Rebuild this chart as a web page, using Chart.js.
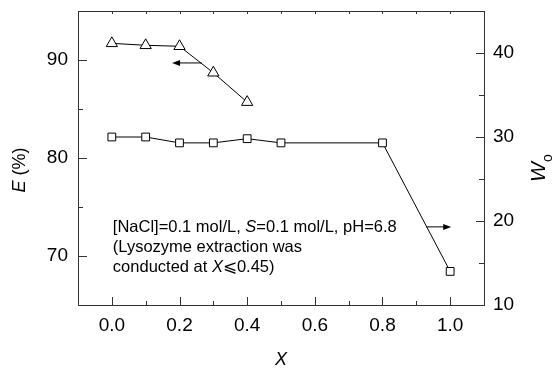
<!DOCTYPE html>
<html>
<head>
<meta charset="utf-8">
<script src="https://cdn.jsdelivr.net/npm/chart.js@4"></script>
<style>
	html, body { margin: 0; padding: 0; background: #fff; }
	#wrap { width: 552px; height: 372px; }
</style>
</head>
<body>
<div id="wrap"><canvas id="chart" width="552" height="372"></canvas></div>
<script>
"use strict";

// values
const xE = [0, 0.1, 0.2, 0.3, 0.4];
const eValues = [91.7, 91.5, 91.4, 88.7, 85.7];
const xW = [0, 0.1, 0.2, 0.3, 0.4, 0.5, 0.8, 1.0];
const wValues = [30.0, 30.0, 29.3, 29.3, 29.8, 29.3, 29.3, 14.0];

const xTicks = [0, 0.2, 0.4, 0.6, 0.8, 1.0];
const eTicks = [70, 80, 90];
const wTicks = [10, 20, 30, 40];

const noteLines = [
	[["[NaCl]=0.1 mol/L, ", false], ["S", true], ["=0.1 mol/L, pH=6.8", false]],
	[["(Lysozyme extraction was", false]],
	[["conducted at ", false], ["X", true], ["\u2A7D0.45)", false]]
];

const AXIS = '#333';
const FONT = '"Liberation Sans", Arial, sans-serif';

function fixTicks(list) {
	return function (scale) {
		scale.ticks = list.map(function (v) { return { value: v }; });
	};
}

// keep the plot area where the reference has it
function fitTo(prop, size) {
	return function (scale) {
		scale[prop] = size;
		scale.paddingTop = 0;
		scale.paddingBottom = 0;
		scale.paddingLeft = 0;
		scale.paddingRight = 0;
	};
}

// minor ticks half way between the major ones, inside the range
function minors(scale, list) {
	const step = list[1] - list[0];
	const out = [];
	for (let i = -1; i < list.length; i++) {
		const v = list[0] + (i + 0.5) * step;
		if (v > scale.min + 1e-9 && v < scale.max - 1e-9) { out.push(v); }
	}
	return out;
}

function arrow(ctx, x1, y1, x2, y2) {
	const a = Math.atan2(y2 - y1, x2 - x1);
	ctx.beginPath();
	ctx.moveTo(x1, y1);
	ctx.lineTo(x2 - 6 * Math.cos(a), y2 - 6 * Math.sin(a));
	ctx.stroke();
	ctx.beginPath();
	ctx.moveTo(x2, y2);
	ctx.lineTo(x2 - 8 * Math.cos(a) + 3 * Math.sin(a), y2 - 8 * Math.sin(a) - 3 * Math.cos(a));
	ctx.lineTo(x2 - 8 * Math.cos(a) - 3 * Math.sin(a), y2 - 8 * Math.sin(a) + 3 * Math.cos(a));
	ctx.closePath();
	ctx.fill();
}

function mixed(ctx, parts, x, y, size) {
	parts.forEach(function (p) {
		ctx.font = (p[1] ? 'italic ' : '') + size + 'px ' + FONT;
		ctx.fillText(p[0], x, y);
		x += ctx.measureText(p[0]).width;
	});
	return x;
}

const framePlugin = {
	id: 'frame',
	afterDatasetsDraw: function (chart) {
		const ctx = chart.ctx;
		const a = chart.chartArea;
		const sx = chart.scales.x;
		const sy = chart.scales.y;
		const sw = chart.scales.y2;

		ctx.save();
		ctx.strokeStyle = AXIS;
		ctx.fillStyle = '#000';
		ctx.lineWidth = 1;

		// box
		ctx.strokeRect(Math.round(a.left) + 0.5, Math.round(a.top) + 0.5,
			Math.round(a.right - a.left), Math.round(a.bottom - a.top));

		// inward ticks
		ctx.beginPath();
		xTicks.forEach(function (v) {
			const p = Math.round(sx.getPixelForValue(v)) + 0.5;
			ctx.moveTo(p, a.bottom); ctx.lineTo(p, a.bottom - 8);
			ctx.moveTo(p, a.top); ctx.lineTo(p, a.top + 3);
		});
		minors(sx, xTicks).forEach(function (v) {
			const p = Math.round(sx.getPixelForValue(v)) + 0.5;
			ctx.moveTo(p, a.bottom); ctx.lineTo(p, a.bottom - 4);
			ctx.moveTo(p, a.top); ctx.lineTo(p, a.top + 3);
		});
		eTicks.forEach(function (v) {
			const p = Math.round(sy.getPixelForValue(v)) + 0.5;
			ctx.moveTo(a.left, p); ctx.lineTo(a.left + 9, p);
		});
		minors(sy, eTicks).forEach(function (v) {
			const p = Math.round(sy.getPixelForValue(v)) + 0.5;
			ctx.moveTo(a.left, p); ctx.lineTo(a.left + 5, p);
		});
		wTicks.forEach(function (v) {
			const p = Math.round(sw.getPixelForValue(v)) + 0.5;
			ctx.moveTo(a.right, p); ctx.lineTo(a.right - 8, p);
		});
		minors(sw, wTicks).forEach(function (v) {
			const p = Math.round(sw.getPixelForValue(v)) + 0.5;
			ctx.moveTo(a.right, p); ctx.lineTo(a.right - 5, p);
		});
		ctx.stroke();

		// arrows pointing at the axis each curve belongs to
		ctx.strokeStyle = '#000';
		arrow(ctx, sx.getPixelForValue(0.266), sy.getPixelForValue(89.7),
			sx.getPixelForValue(0.178), sy.getPixelForValue(89.7));
		arrow(ctx, sx.getPixelForValue(0.929), sw.getPixelForValue(19.3),
			sx.getPixelForValue(1.003), sw.getPixelForValue(19.3));

		// note
		ctx.textBaseline = 'alphabetic';
		ctx.textAlign = 'left';
		const nx = sx.getPixelForValue(0.003);
		const ny = sy.getPixelForValue(72.45);
		noteLines.forEach(function (line, i) {
			mixed(ctx, line, nx, ny + i * 20, 16.5);
		});

		// axis titles
		ctx.textBaseline = 'middle';
		ctx.textAlign = 'left';
		ctx.font = 'italic 18px ' + FONT;
		const xw = ctx.measureText('X').width;
		ctx.fillText('X', (a.left + a.right) / 2 - xw / 2, 360);

		ctx.save();
		ctx.translate(20, 170);
		ctx.rotate(-Math.PI / 2);
		ctx.font = 'italic 18px ' + FONT;
		const ew = ctx.measureText('E').width;
		ctx.font = '18px ' + FONT;
		const pw = ctx.measureText(' (%)').width;
		mixed(ctx, [['E', true], [' (%)', false]], -(ew + pw) / 2, 0, 18);
		ctx.restore();

		ctx.save();
		ctx.translate(539, 172);
		ctx.rotate(-Math.PI / 2);
		ctx.font = 'italic 21px ' + FONT;
		const ww = ctx.measureText('W').width;
		ctx.fillText('W', -ww / 2, 0);
		ctx.font = '14px ' + FONT;
		ctx.fillText('o', ww / 2, 9);
		ctx.restore();

		ctx.restore();
	}
};

new Chart(document.getElementById('chart'), {
	type: 'line',
	data: {
		datasets: [
			{
				label: 'E',
				data: xE.map(function (x, i) { return { x: x, y: eValues[i] }; }),
				yAxisID: 'y',
				borderColor: '#000', borderWidth: 1,
				pointStyle: 'triangle', pointRadius: 6.5,
				pointBorderColor: '#000', pointBackgroundColor: '#fff', pointBorderWidth: 1,
				tension: 0
			},
			{
				label: 'Wo',
				data: xW.map(function (x, i) { return { x: x, y: wValues[i] }; }),
				yAxisID: 'y2',
				borderColor: '#000', borderWidth: 1,
				pointStyle: 'rect', pointRadius: 5.5,
				pointBorderColor: '#000', pointBackgroundColor: '#fff', pointBorderWidth: 1,
				tension: 0
			}
		]
	},
	options: {
		responsive: false,
		animation: false,
		devicePixelRatio: 1,
		layout: { padding: { top: 11, left: 0, right: 0, bottom: 0 } },
		plugins: { legend: { display: false }, tooltip: { enabled: false } },
		scales: {
			x: {
				type: 'linear', min: -0.1, max: 1.1,
				afterBuildTicks: fixTicks(xTicks),
				afterFit: fitTo('height', 67),
				grid: { display: false, drawTicks: false },
				border: { display: false },
				ticks: {
					color: '#000', padding: 9,
					font: { family: FONT, size: 19 },
					callback: function (v) { return Number(v).toFixed(1); }
				}
			},
			y: {
				type: 'linear', position: 'left', min: 65, max: 95,
				afterBuildTicks: fixTicks(eTicks),
				afterFit: fitTo('width', 78),
				grid: { display: false, drawTicks: false },
				border: { display: false },
				ticks: { color: '#000', padding: 10, font: { family: FONT, size: 19 } }
			},
			y2: {
				type: 'linear', position: 'right', min: 10, max: 45,
				afterBuildTicks: fixTicks(wTicks),
				afterFit: fitTo('width', 68),
				grid: { display: false, drawTicks: false },
				border: { display: false },
				ticks: { color: '#000', padding: 9, font: { family: FONT, size: 19 } }
			}
		}
	},
	plugins: [framePlugin]
});
</script>
</body>
</html>
